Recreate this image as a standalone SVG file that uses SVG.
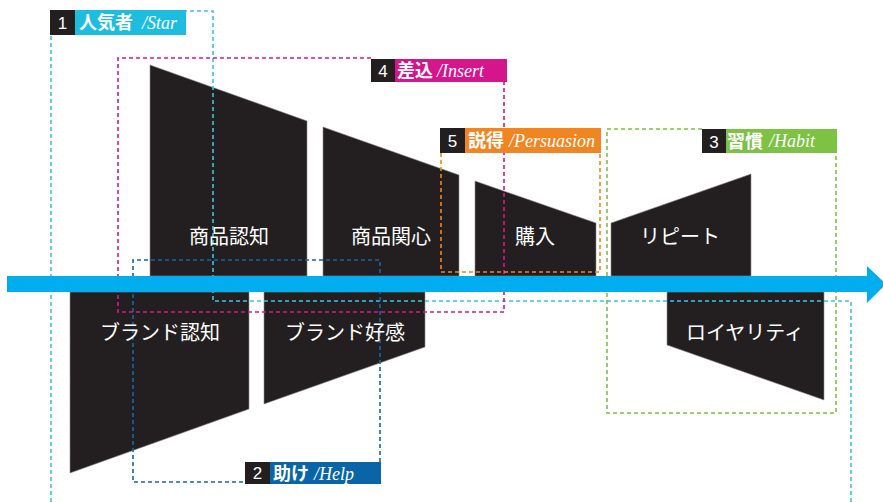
<svg xmlns="http://www.w3.org/2000/svg" width="883" height="502" viewBox="0 0 883 502">
<style>
.shape{fill:#231f20;stroke:#8a8a8a;stroke-width:0.6}
.lbl{font-family:"Noto Sans CJK JP","Noto Sans",sans-serif;font-size:20px;fill:#fff;text-anchor:middle}
.dash{fill:none;stroke-width:1.6;stroke-dasharray:4 3}
.num{font-family:"Liberation Sans","Noto Sans",sans-serif;font-size:17px;fill:#fff;text-anchor:middle}
.jp{font-family:"Noto Sans CJK JP",sans-serif;font-size:18px;font-weight:bold;fill:#fff}
.en{font-family:"Liberation Serif",serif;font-style:italic;font-size:18px;fill:#fff}
</style>
<rect width="883" height="502" fill="#fff"/>
<g id="nodes">
<g id="n-shohin-ninchi"><polygon class="shape" points="150,65 307,121 307,276 150,276"/></g>
<g id="n-shohin-kanshin"><polygon class="shape" points="323,127 459,175 459,276 323,276"/></g>
<g id="n-konyu"><polygon class="shape" points="475,181 596,223 596,276 475,276"/></g>
<g id="n-repeat"><polygon class="shape" points="611,223 751,174 751,276 611,276"/></g>
<g id="n-brand-ninchi"><polygon class="shape" points="70,292 249,292 249,409 70,473"/></g>
<g id="n-brand-kokan"><polygon class="shape" points="264,292 425,292 425,347 264,404"/></g>
<g id="n-loyalty"><polygon class="shape" points="667,292 824,292 824,400 667,345"/></g>
</g>
<g id="connectors">
<path class="dash" stroke="#3fc3e3" d="M51,502 V11 H213 V301 H851 V502"/>
<path class="dash" stroke="#1467a8" d="M380,462 V260 H133 V482 H245"/>
<path class="dash" stroke="#d8178c" d="M371,58 H118 V312 H504 V82"/>
<path class="dash" stroke="#f08522" d="M441,153 V272 H600 V153"/>
<path class="dash" stroke="#7cc243" d="M702,129 H607 V413 H836 V153"/>
<g id="axis">
<rect x="7" y="276" width="862" height="16" fill="#00aeef"/>
<polygon points="867,266 886,284 867,303" fill="#00aeef"/>
</g>
</g>
<g id="labels">
<text class="lbl" x="229" y="244">商品認知</text>
<text class="lbl" x="391" y="244">商品関心</text>
<text class="lbl" x="535" y="244">購入</text>
<text class="lbl" x="680" y="244">リピート</text>
<text class="lbl" x="160" y="340">ブランド認知</text>
<text class="lbl" x="345" y="340">ブランド好感</text>
<text class="lbl" x="745" y="340">ロイヤリティ</text>
</g>
<g id="tag-star">
<rect x="50" y="10" width="25" height="25" fill="#231f20"/>
<rect x="75" y="10" width="111" height="25" fill="#1ebde0"/>
<text class="num" x="62.5" y="29">1</text>
<text class="jp" x="79" y="29">人気者</text>
<text class="en" x="142" y="28.5">/Star</text>
</g>
<g id="tag-help">
<rect x="245" y="462" width="25" height="22" fill="#231f20"/>
<rect x="270" y="462" width="111" height="22" fill="#0a65a6"/>
<text class="num" x="257.5" y="479">2</text>
<text class="jp" x="273" y="480">助け</text>
<text class="en" x="314" y="479.5">/Help</text>
</g>
<g id="tag-insert">
<rect x="371" y="59" width="24" height="23" fill="#231f20"/>
<rect x="395" y="59" width="112" height="23" fill="#d5158b"/>
<text class="num" x="383" y="77">4</text>
<text class="jp" x="397" y="77">差込</text>
<text class="en" x="437" y="76.5">/Insert</text>
</g>
<g id="tag-persuasion">
<rect x="440" y="128" width="25" height="25" fill="#231f20"/>
<rect x="465" y="128" width="136" height="25" fill="#f08522"/>
<text class="num" x="452.5" y="147">5</text>
<text class="jp" x="468" y="147">説得</text>
<text class="en" x="509" y="146.5">/Persuasion</text>
</g>
<g id="tag-habit">
<rect x="702" y="129" width="24" height="24" fill="#231f20"/>
<rect x="726" y="129" width="111" height="24" fill="#7cc243"/>
<text class="num" x="714" y="147.5">3</text>
<text class="jp" x="727" y="147.5">習慣</text>
<text class="en" x="769" y="147">/Habit</text>
</g>
</svg>
